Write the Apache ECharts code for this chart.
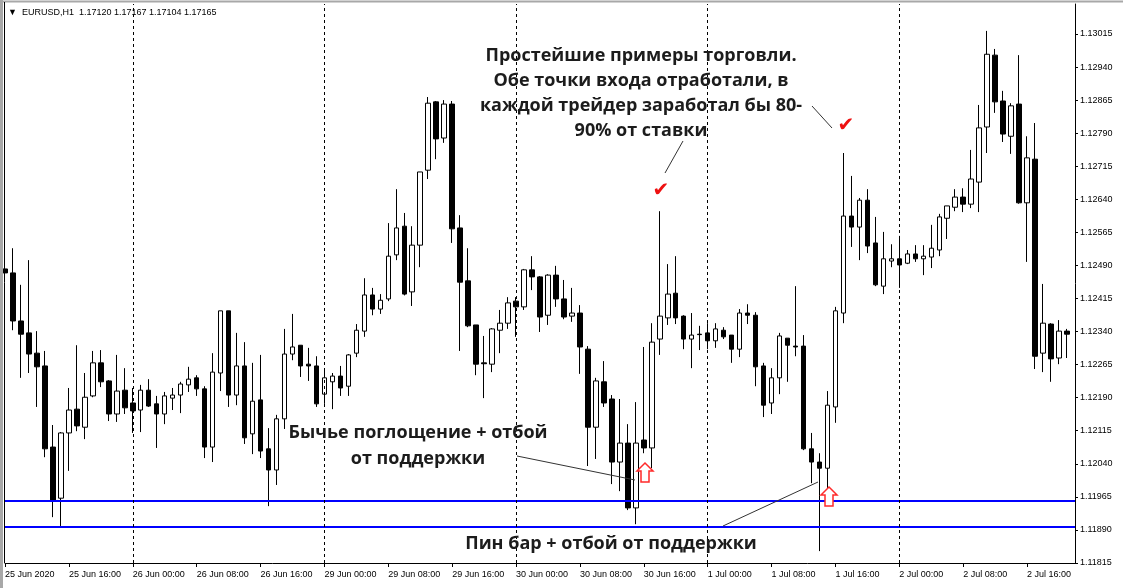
<!DOCTYPE html>
<html><head><meta charset="utf-8">
<script src="https://cdn.jsdelivr.net/npm/echarts@6.0.0/dist/echarts.min.js"></script>
<style>html,body{margin:0;padding:0;background:#fff}#c{width:1123px;height:588px}</style>
</head><body><div id="c"></div><script>
// ---- data ----
const tradingDays = [['25 Jun', 8, 23], ['26 Jun', 0, 23], ['29 Jun', 0, 23], ['30 Jun', 0, 23], ['1 Jul', 0, 23], ['2 Jul', 0, 21]];
const categories = [];
tradingDays.forEach(([d, h0, h1]) => { for (let h = h0; h <= h1; h++) categories.push(d + ' ' + String(h).padStart(2, '0') + ':00'); });

const tickLabels = ['25 Jun 2020','25 Jun 16:00','26 Jun 00:00','26 Jun 08:00','26 Jun 16:00','29 Jun 00:00','29 Jun 08:00','29 Jun 16:00','30 Jun 00:00','30 Jun 08:00','30 Jun 16:00','1 Jul 00:00','1 Jul 08:00','1 Jul 16:00','2 Jul 00:00','2 Jul 08:00','2 Jul 16:00'];

const openPrices = [1.12482,1.12473,1.12364,1.12337,1.12291,1.12262,1.12078,1.11962,1.12110,1.12164,
1.12123,1.12194,1.12269,1.12228,1.12153,1.12207,1.12178,1.12162,1.12207,1.12176,
1.12153,1.12189,1.12196,1.12219,1.12235,1.12210,1.12078,1.12246,1.12387,1.12196,
1.12262,1.12108,1.12185,1.12074,1.12026,1.12142,1.12289,1.12309,1.12266,1.12262,
1.12198,1.12226,1.12239,1.12216,1.12291,1.12341,1.12423,1.12391,1.12414,1.12514,
1.12579,1.12430,1.12536,1.12706,1.12861,1.12779,1.12856,1.12575,1.12455,1.12355,
1.12269,1.12266,1.12343,1.12359,1.12409,1.12396,1.12480,1.12464,1.12377,1.12468,
1.12414,1.12375,1.12382,1.12300,1.12123,1.12226,1.12187,1.12044,1.12087,1.11940,
1.12094,1.12076,1.12323,1.12371,1.12427,1.12375,1.12323,1.12334,1.12337,1.12319,
1.12343,1.12332,1.12300,1.12382,1.12377,1.12262,1.12178,1.12235,1.12325,1.12307,
1.12307,1.12074,1.12044,1.12030,1.12169,1.12382,1.12602,1.12577,1.12638,1.12541,
1.12443,1.12500,1.12505,1.12495,1.12516,1.12505,1.12509,1.12525,1.12597,1.12622,
1.12645,1.12629,1.12679,1.12804,1.12967,1.12863,1.12783,1.12856,1.12632,1.12731,
1.12291,1.12357,1.12280,1.12341];
const closePrices = [1.12473,1.12364,1.12334,1.12289,1.12260,1.12074,1.11958,1.12110,1.12162,1.12126,
1.12191,1.12269,1.12226,1.12153,1.12205,1.12167,1.12160,1.12207,1.12171,1.12153,
1.12194,1.12196,1.12221,1.12232,1.12210,1.12078,1.12248,1.12387,1.12196,1.12262,
1.12099,1.12182,1.12069,1.12026,1.12142,1.12289,1.12305,1.12262,1.12262,1.12176,
1.12235,1.12239,1.12212,1.12287,1.12343,1.12423,1.12391,1.12411,1.12511,1.12575,
1.12425,1.12536,1.12702,1.12858,1.12777,1.12856,1.12573,1.12452,1.12353,1.12266,
1.12267,1.12346,1.12359,1.12405,1.12396,1.12480,1.12464,1.12373,1.12468,1.12414,
1.12373,1.12382,1.12305,1.12123,1.12228,1.12178,1.12044,1.12087,1.11940,1.12087,
1.12076,1.12316,1.12375,1.12425,1.12371,1.12323,1.12332,1.12333,1.12319,1.12346,
1.12328,1.12300,1.12382,1.12377,1.12260,1.12173,1.12235,1.12330,1.12309,1.12305,
1.12074,1.12044,1.12030,1.12173,1.12387,1.12602,1.12577,1.12638,1.12534,1.12446,
1.12505,1.12505,1.12491,1.12516,1.12505,1.12511,1.12529,1.12600,1.12625,1.12645,
1.12629,1.12686,1.12802,1.12969,1.12861,1.12788,1.12852,1.12632,1.12734,1.12284,
1.12359,1.12278,1.12341,1.12334];
const lowPrices = [1.12452,1.12343,1.12235,1.12246,1.12169,1.12055,1.11919,1.11899,1.12024,1.12114,
1.12096,1.12191,1.12214,1.12137,1.12135,1.12153,1.12110,1.12112,1.12169,1.12076,
1.12130,1.12162,1.12155,1.12203,1.12194,1.12053,1.12044,1.12205,1.12169,1.12173,
1.12085,1.12062,1.12053,1.11944,1.11992,1.12119,1.12275,1.12237,1.12228,1.12169,
1.12176,1.12164,1.12194,1.12194,1.12282,1.12328,1.12377,1.12380,1.12409,1.12502,
1.12422,1.12398,1.12486,1.12686,1.12731,1.12768,1.12541,1.12296,1.12350,1.12241,
1.12189,1.12248,1.12291,1.12346,1.12328,1.12389,1.12434,1.12339,1.12355,1.12396,
1.12368,1.12362,1.12244,1.12035,1.12051,1.12169,1.11994,1.11978,1.11935,1.11903,
1.12064,1.12030,1.12287,1.12355,1.12357,1.12300,1.12257,1.12298,1.12300,1.12303,
1.12323,1.12269,1.12282,1.12357,1.12216,1.12146,1.12153,1.12198,1.12226,1.12284,
1.12071,1.11996,1.11842,1.11985,1.12133,1.12359,1.12532,1.12502,1.12518,1.12443,
1.12425,1.12486,1.12439,1.12493,1.12498,1.12468,1.12484,1.12511,1.12550,1.12613,
1.12611,1.12620,1.12611,1.12745,1.12836,1.12770,1.12743,1.12630,1.12498,1.12255,
1.12248,1.12226,1.12266,1.12280];
const highPrices = [1.12527,1.12529,1.12446,1.12502,1.12341,1.12296,1.12128,1.12112,1.12212,1.12309,
1.12246,1.12296,1.12298,1.12230,1.12287,1.12257,1.12212,1.12219,1.12232,1.12194,
1.12203,1.12212,1.12226,1.12260,1.12241,1.12216,1.12291,1.12387,1.12387,1.12337,
1.12316,1.12269,1.12287,1.12121,1.12151,1.12346,1.12380,1.12309,1.12303,1.12284,
1.12255,1.12246,1.12262,1.12289,1.12357,1.12461,1.12439,1.12425,1.12586,1.12663,
1.12609,1.12579,1.12702,1.12872,1.12863,1.12865,1.12863,1.12604,1.12529,1.12355,
1.12330,1.12348,1.12389,1.12418,1.12418,1.12482,1.12511,1.12466,1.12470,1.12489,
1.12457,1.12439,1.12400,1.12307,1.12235,1.12273,1.12196,1.12187,1.12130,1.12180,
1.12305,1.12359,1.12613,1.12493,1.12511,1.12377,1.12382,1.12353,1.12359,1.12359,
1.12350,1.12332,1.12391,1.12402,1.12384,1.12269,1.12257,1.12337,1.12325,1.12443,
1.12332,1.12110,1.12064,1.12205,1.12396,1.12745,1.12693,1.12643,1.12663,1.12600,
1.12566,1.12538,1.12557,1.12525,1.12536,1.12536,1.12582,1.12607,1.12625,1.12663,
1.12665,1.12752,1.12854,1.13022,1.12981,1.12886,1.12858,1.12967,1.12783,1.12813,
1.12448,1.12359,1.12366,1.12346];

const supportLevels = [1.11956, 1.11897];
const headerText = '\u25BC  EURUSD,H1  1.17120 1.17167 1.17104 1.17165';
const noteTop = 'Простейшие примеры торговли.\nОбе точки входа отработали, в\nкаждой трейдер заработал бы 80-\n90% от ставки';
const noteEngulf = 'Бычье поглощение + отбой\nот поддержки';
const notePin = 'Пин бар + отбой от поддержки';

// ---- build ----
const candles = categories.map((c, i) => [openPrices[i], closePrices[i], lowPrices[i], highPrices[i]]);
const daySeparators = categories.filter((c, i) => i > 0 && c.endsWith(' 00:00'));

const chart = echarts.init(document.getElementById('c'), null, {renderer: 'canvas'});
const txtColor = '#1c1c1c';
const noteFont = 'bold 18px "Open Sans"';
function arrow(cx, top) {
  return {type: 'polygon', shape: {points: [[cx, top], [cx + 8, top + 8], [cx + 4, top + 8], [cx + 4, top + 19], [cx - 4, top + 19], [cx - 4, top + 8], [cx - 8, top + 8]]},
    style: {fill: '#fff', stroke: '#ff2a2a', lineWidth: 1.5}, z: 100};
}
function seg(x1, y1, x2, y2) {
  return {type: 'line', shape: {x1, y1, x2, y2}, style: {stroke: '#333', lineWidth: 1}, z: 100};
}
chart.setOption({
  animation: false,
  backgroundColor: '#fff',
  grid: {left: 5, right: 48, top: 4, bottom: 25, containLabel: false},
  xAxis: {
    type: 'category', data: categories, boundaryGap: false, max: categories.length,
    axisLine: {show: true, lineStyle: {color: '#000', width: 1}},
    axisTick: {show: true, interval: 7, length: 4, lineStyle: {color: '#000'}},
    axisLabel: {interval: 7, align: 'left', margin: 7, fontSize: 9, fontFamily: 'Liberation Sans', color: '#000',
      formatter: v => { const i = categories.indexOf(v); return (i >= 0 && i % 8 === 0) ? tickLabels[i / 8] : ''; }},
    splitLine: {show: false}
  },
  yAxis: {
    type: 'value', position: 'right', min: 1.11815, max: 1.13083, interval: 0.00075,
    axisLine: {show: true, lineStyle: {color: '#000', width: 1}},
    axisTick: {show: true, length: 3, lineStyle: {color: '#000'}},
    splitLine: {show: false},
    axisLabel: {fontSize: 9, fontFamily: 'Liberation Sans', color: '#000', margin: 5, showMaxLabel: false,
      formatter: v => v.toFixed(5)}
  },
  series: [{
    type: 'candlestick', data: candles, barWidth: 5,
    itemStyle: {color: '#fff', color0: '#000', borderColor: '#000', borderColor0: '#000', borderColorDoji: '#000', borderWidth: 1},
    markLine: {
      silent: true, symbol: ['none', 'none'], label: {show: false}, animation: false, precision: 5,
      data: [
        ...supportLevels.map(v => ({yAxis: v, lineStyle: {color: '#0000ff', width: 2, type: 'solid'}})),
        ...daySeparators.map(c => ({xAxis: c, lineStyle: {color: '#000', width: 1, type: [3, 3]}}))
      ]
    }
  }],
  graphic: [
    {type: 'rect', shape: {x: 0, y: 0, width: 3, height: 588}, style: {fill: '#a8a8a8'}, z: 50},
    {type: 'line', shape: {x1: 0, y1: 1.5, x2: 1123, y2: 1.5}, style: {stroke: '#a8a8a8', lineWidth: 2}, z: 50},
    {type: 'line', shape: {x1: 4.5, y1: 2, x2: 4.5, y2: 563}, style: {stroke: '#000', lineWidth: 1}, z: 50},
    {type: 'text', x: 8, y: 13, style: {text: headerText, font: '9px "Liberation Sans"', fill: '#000', verticalAlign: 'middle'}, z: 50},
    {type: 'text', x: 641, y: 43, style: {text: noteTop, font: noteFont, fill: txtColor, align: 'center', verticalAlign: 'top', lineHeight: 25}, z: 90},
    {type: 'text', x: 418, y: 420, style: {text: noteEngulf, font: noteFont, fill: txtColor, align: 'center', verticalAlign: 'top', lineHeight: 26}, z: 90},
    {type: 'text', x: 611, y: 531, style: {text: notePin, font: noteFont, fill: txtColor, align: 'center', verticalAlign: 'top', lineHeight: 25}, z: 90},
    seg(683, 141, 665, 173),
    seg(812, 106, 832, 128),
    seg(517, 456, 635, 480),
    seg(723, 526, 818, 482),
    {type: 'text', x: 661, y: 191, style: {text: '\u2714', font: '20px "DejaVu Sans"', fill: '#ee1111', align: 'center', verticalAlign: 'middle'}, z: 100},
    {type: 'text', x: 846, y: 126, style: {text: '\u2714', font: '20px "DejaVu Sans"', fill: '#ee1111', align: 'center', verticalAlign: 'middle'}, z: 100},
    arrow(645, 463),
    arrow(829, 487)
  ]
});
</script></body></html>
